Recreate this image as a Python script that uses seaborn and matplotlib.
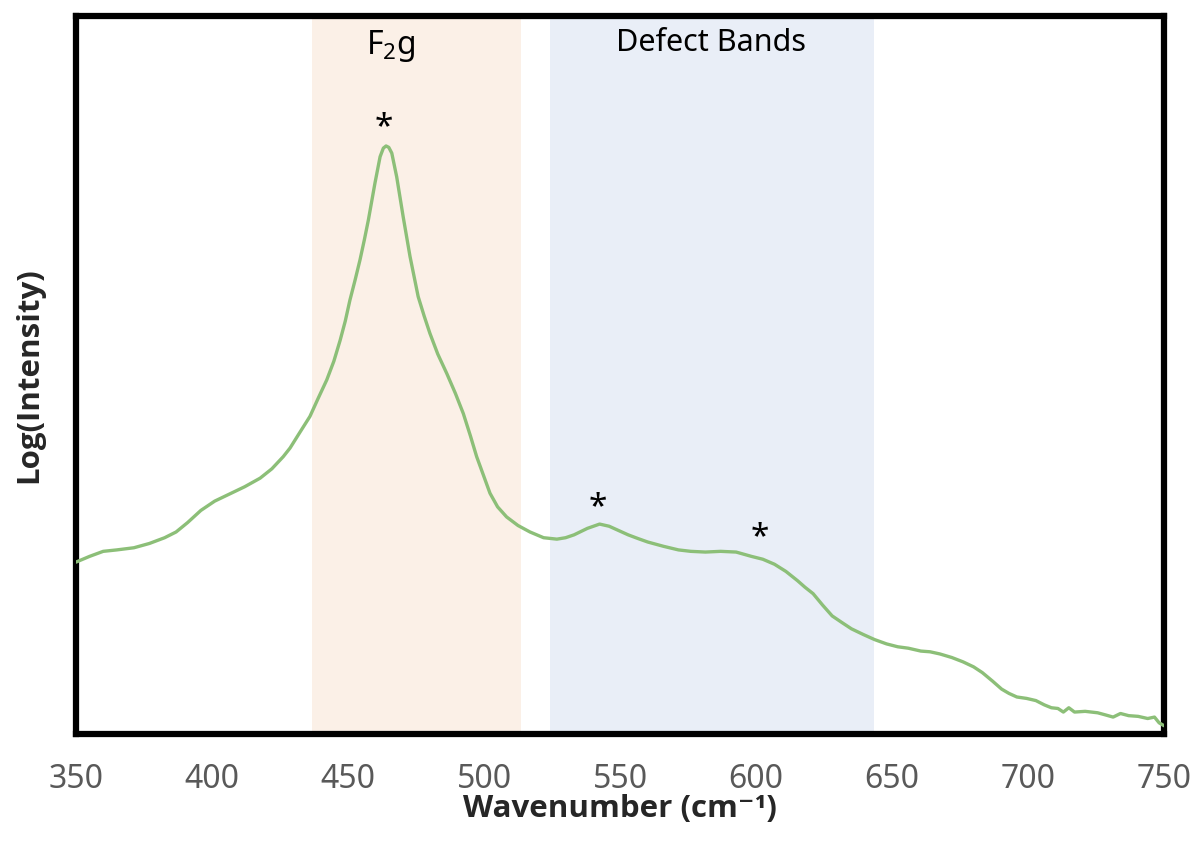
import matplotlib
matplotlib.use("Agg")
import matplotlib.pyplot as plt
import seaborn as sns
import numpy as np

# Raman spectrum (wavenumber cm^-1, relative log intensity)
wavenumber = [350, 355, 360, 365, 371.3, 377, 382.6, 386.8, 391, 395.9, 401, 406.5,
              412, 417.7, 422, 426.2, 428.7, 432, 436, 439, 442.2, 444.8, 447.1, 449,
              450.7, 452.6, 454.4, 456, 457.5, 459.9, 461.8, 463, 464, 465, 466.1, 467.9,
              470.3, 472.8, 475.8, 478, 480.1, 483, 486.3, 489.5, 492.4, 495, 497.3,
              499.8, 502.2, 505, 508.3, 512.5, 516.9,
              521.9, 526.8, 530, 533.1, 538, 542.5, 546, 549.5, 553, 556.5, 560.2, 566,
              571.5, 576, 581.4, 587, 592.7, 598.3, 602.5, 606.8, 611, 615.3, 618, 621,
              624.5, 628, 631.5, 635.1, 639.5, 643.6, 648, 652.1, 656, 660.6, 664, 667.6,
              672, 676.1, 680, 683.2, 687, 690.3, 693, 695.9, 699.5, 702.9, 706, 708.6,
              711, 713, 715, 717.1, 721, 725.6, 728.5, 731.3, 734, 737, 740.5, 744,
              746.5, 748.2, 750]
intensity = [23.9, 24.7, 25.4, 25.6, 25.9, 26.5, 27.3, 28.1, 29.4, 31.1, 32.4, 33.4,
             34.4, 35.6, 36.9, 38.6, 39.8, 41.8, 44.2, 46.7, 49.3, 51.9, 54.8, 57.5,
             60.4, 63.2, 66.0, 68.8, 71.6, 76.7, 80.4, 81.6, 81.9, 81.7, 80.9, 77.6,
             72.0, 66.5, 60.9, 58.2, 55.8, 52.9, 50.2, 47.4, 44.6, 41.5, 38.6,
             36.0, 33.5, 31.6, 30.2, 29.0, 28.1,
             27.3, 27.1, 27.3, 27.7, 28.6, 29.2, 28.9, 28.3, 27.7, 27.2, 26.7, 26.1,
             25.6, 25.4, 25.3, 25.4, 25.3, 24.7, 24.3, 23.6, 22.6, 21.3, 20.4, 19.5,
             17.9, 16.4, 15.5, 14.6, 13.8, 13.1, 12.5, 12.1, 11.9, 11.5, 11.4, 11.1,
             10.6, 10.0, 9.3, 8.5, 7.3, 6.2, 5.6, 5.1, 4.9, 4.6, 4.0, 3.6,
             3.5, 3.0, 3.6, 3.0, 3.1, 2.9, 2.6, 2.3, 2.8, 2.5, 2.4, 2.1,
             2.3, 1.5, 1.1]

x_ticks = [350, 400, 450, 500, 550, 600, 650, 700, 750]

# shaded regions (wavenumber ranges)
f2g_band = (436.8, 513.6)
defect_band = (524.3, 643.2)

# peak markers
star_x = [463.2, 541.9, 601.5]
star_y = [84.4, 31.5, 27.3]

sns.set_style("white")
plt.rcParams['font.family'] = ['Noto Sans', 'DejaVu Sans']
plt.rcParams['mathtext.fontset'] = 'custom'
plt.rcParams['mathtext.rm'] = 'Noto Sans'

fig = plt.figure(figsize=(11.93, 8.47), dpi=100)
ax = fig.add_axes([0.0637, 0.1339, 0.912, 0.8471])

ax.axvspan(*f2g_band, color="#FBF0E7", lw=0, zorder=0)
ax.axvspan(*defect_band, color="#E9EEF7", lw=0, zorder=0)

sns.lineplot(x=wavenumber, y=intensity, ax=ax, color="#8CBF78", linewidth=2.4, zorder=3)

for sx, sy in zip(star_x, star_y):
    ax.text(sx, sy, "*", ha="center", va="center", fontsize=24, color="black", zorder=4)

ax.text(465.8, 95.8, r"F$_\mathrm{2}$g", ha="center", va="center", fontsize=23, color="black")
ax.text(583.5, 96.3, "Defect Bands", ha="center", va="center", fontsize=22, color="black")

ax.set_xlim(350, 750)
ax.set_ylim(0, 100)
ax.set_xticks(x_ticks)
ax.set_xticklabels([str(t) for t in x_ticks])
ax.set_yticks([])
ax.tick_params(axis="x", length=0, pad=21, labelsize=23, labelcolor="#595959")

for s in ax.spines.values():
    s.set_visible(True)
    s.set_color("black")
    s.set_linewidth(4.5)

ax.set_xlabel("Wavenumber (cm\u207b\u00b9)", fontsize=22.5, fontweight="bold",
              family=["Open Sans", "DejaVu Sans"], labelpad=-1)
ax.set_ylabel("Log(Intensity)", fontsize=22.5, fontweight="bold",
              family=["Open Sans", "DejaVu Sans"], labelpad=23)

fig.savefig("out.png", dpi=100)
